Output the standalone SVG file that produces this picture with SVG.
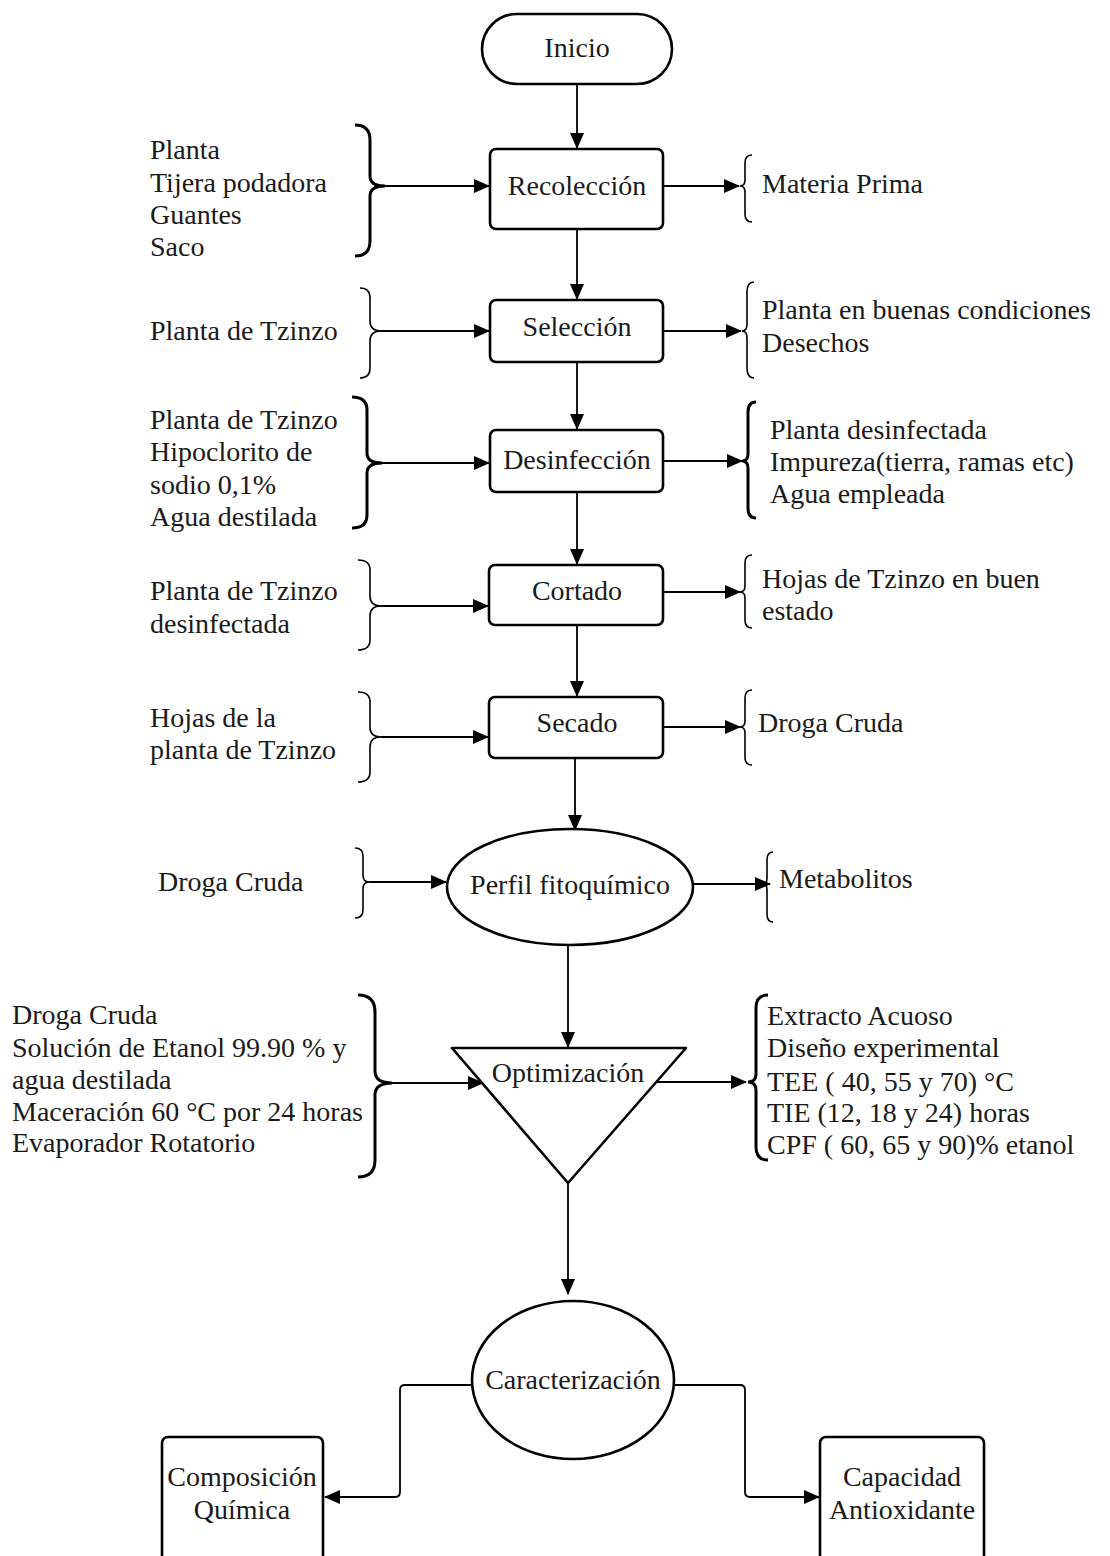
<svg xmlns="http://www.w3.org/2000/svg" width="1110" height="1556" viewBox="0 0 1110 1556">
<style>
text{font-family:"Liberation Serif","Times New Roman",serif;font-size:28px;fill:#1a1a1a}
.c{text-anchor:middle}
.box{fill:#fff;stroke:#000;stroke-width:2.6}
.ln{fill:none;stroke:#000;stroke-width:1.8}
.br{fill:none;stroke:#000;stroke-width:1.6}
.brk{fill:none;stroke:#000;stroke-width:3}
</style>
<defs>
<marker id="ah" markerUnits="userSpaceOnUse" markerWidth="16" markerHeight="14" refX="15" refY="7" orient="auto">
<path d="M0,0 L16,7 L0,14 Z" fill="#000"/>
</marker>
</defs>
<rect width="1110" height="1556" fill="#fff"/>

<g id="connectors">
<line class="ln" x1="577" y1="84" x2="577" y2="148" marker-end="url(#ah)"/>
<line class="ln" x1="577" y1="229" x2="577" y2="299" marker-end="url(#ah)"/>
<line class="ln" x1="577" y1="362" x2="577" y2="429" marker-end="url(#ah)"/>
<line class="ln" x1="577" y1="492" x2="577" y2="564" marker-end="url(#ah)"/>
<line class="ln" x1="577" y1="625" x2="577" y2="696" marker-end="url(#ah)"/>
<line class="ln" x1="575" y1="758" x2="575" y2="830" marker-end="url(#ah)"/>
<line class="ln" x1="568" y1="945" x2="568" y2="1047" marker-end="url(#ah)"/>
<line class="ln" x1="568" y1="1183" x2="568" y2="1294" marker-end="url(#ah)"/>
<path class="ln" d="M472,1385 H405 Q400,1385 400,1390 V1492 Q400,1497 395,1497 H325" marker-end="url(#ah)"/>
<path class="ln" d="M674,1385 H740 Q745,1385 745,1390 V1492 Q745,1497 750,1497 H819" marker-end="url(#ah)"/>
<line class="ln" x1="385" y1="186" x2="489" y2="186" marker-end="url(#ah)"/>
<line class="ln" x1="381" y1="331" x2="489" y2="331" marker-end="url(#ah)"/>
<line class="ln" x1="382" y1="463" x2="489" y2="463" marker-end="url(#ah)"/>
<line class="ln" x1="381" y1="606" x2="488" y2="606" marker-end="url(#ah)"/>
<line class="ln" x1="381" y1="737" x2="488" y2="737" marker-end="url(#ah)"/>
<line class="ln" x1="369" y1="882" x2="446" y2="882" marker-end="url(#ah)"/>
<line class="ln" x1="392" y1="1083" x2="483" y2="1083" marker-end="url(#ah)"/>
<line class="ln" x1="663" y1="186" x2="739" y2="186" marker-end="url(#ah)"/>
<line class="ln" x1="663" y1="331" x2="741" y2="331" marker-end="url(#ah)"/>
<line class="ln" x1="663" y1="461" x2="742" y2="461" marker-end="url(#ah)"/>
<line class="ln" x1="663" y1="592" x2="740" y2="592" marker-end="url(#ah)"/>
<line class="ln" x1="663" y1="727" x2="740" y2="727" marker-end="url(#ah)"/>
<line class="ln" x1="693" y1="884" x2="770" y2="884" marker-end="url(#ah)"/>
<line class="ln" x1="656" y1="1082" x2="746" y2="1082" marker-end="url(#ah)"/>
</g>

<g id="braces">
<path class="brk" d="M355,125 Q370,125 370,140 L370,176 Q370,186 385,186 Q370,186 370,196 L370,241 Q370,256 355,256"/>
<path class="br" d="M360,288 Q370,288 370,298 L370,321 Q370,331 381,331 Q370,331 370,341 L370,368 Q370,378 360,378"/>
<path class="brk" d="M352,397 Q367,397 367,410 L367,453 Q367,463 382,463 Q367,463 367,473 L367,515 Q367,528 352,528"/>
<path class="br" d="M358,560 Q370,560 370,570 L370,596 Q370,606 381,606 Q370,606 370,616 L370,640 Q370,650 358,650"/>
<path class="br" d="M358,692 Q370,692 370,702 L370,727 Q370,737 381,737 Q370,737 370,747 L370,772 Q370,782 358,782"/>
<path class="br" d="M355,848 Q363,848 363,856 L363,875 Q363,882 369,882 Q363,882 363,889 L363,910 Q363,918 355,918"/>
<path class="brk" d="M358,995 Q375,995 375,1012 L375,1071 Q375,1083 392,1083 Q375,1083 375,1095 L375,1160 Q375,1177 358,1177"/>
<path class="br" d="M752,155 Q745,155 745,163 L745,180 Q745,186 740,186 Q745,186 745,192 L745,214 Q745,222 752,222"/>
<path class="br" d="M754,282 Q747,282 747,292 L747,324 Q747,331 742,331 Q747,331 747,338 L747,368 Q747,378 754,378"/>
<path class="brk" d="M756,402 Q748,402 748,412 L748,454 Q748,461 742,461 Q748,461 748,468 L748,508 Q748,518 756,518"/>
<path class="br" d="M752,555 Q745,555 745,563 L745,586 Q745,592 740,592 Q745,592 745,598 L745,620 Q745,628 752,628"/>
<path class="br" d="M752,690 Q745,690 745,698 L745,721 Q745,727 740,727 Q745,727 745,733 L745,757 Q745,765 752,765"/>
<path class="br" d="M773,852 Q767,852 767,860 L767,878 Q767,884 763,884 Q767,884 767,890 L767,914 Q767,922 773,922"/>
<path class="brk" d="M768,995 Q756,995 756,1008 L756,1074 Q756,1082 748,1082 Q756,1082 756,1090 L756,1147 Q756,1160 768,1160"/>
</g>

<g id="inicio"><rect class="box" x="482" y="14" width="190" height="70" rx="35"/><text class="c" x="577" y="57">Inicio</text></g>

<g id="recoleccion"><rect class="box" x="490" y="149" width="173" height="80" rx="6"/><text class="c" x="577" y="195">Recolección</text></g>
<g id="recoleccion-in"><text x="150" y="159">Planta</text><text x="150" y="192">Tijera podadora</text><text x="150" y="224">Guantes</text><text x="150" y="256">Saco</text></g>
<g id="recoleccion-out"><text x="762" y="193">Materia Prima</text></g>

<g id="seleccion"><rect class="box" x="490" y="300" width="173" height="62" rx="6"/><text class="c" x="577" y="336">Selección</text></g>
<g id="seleccion-in"><text x="150" y="340">Planta de Tzinzo</text></g>
<g id="seleccion-out"><text x="762" y="319">Planta en buenas condiciones</text><text x="762" y="352">Desechos</text></g>

<g id="desinfeccion"><rect class="box" x="490" y="430" width="173" height="62" rx="6"/><text class="c" x="577" y="469">Desinfección</text></g>
<g id="desinfeccion-in"><text x="150" y="429">Planta de Tzinzo</text><text x="150" y="461">Hipoclorito de</text><text x="150" y="494">sodio 0,1%</text><text x="150" y="526">Agua destilada</text></g>
<g id="desinfeccion-out"><text x="770" y="439">Planta desinfectada</text><text x="770" y="471">Impureza(tierra, ramas etc)</text><text x="770" y="503">Agua empleada</text></g>

<g id="cortado"><rect class="box" x="489" y="565" width="174" height="60" rx="6"/><text class="c" x="577" y="600">Cortado</text></g>
<g id="cortado-in"><text x="150" y="600">Planta de Tzinzo</text><text x="150" y="633">desinfectada</text></g>
<g id="cortado-out"><text x="762" y="588">Hojas de Tzinzo en buen</text><text x="762" y="620">estado</text></g>

<g id="secado"><rect class="box" x="489" y="697" width="174" height="61" rx="6"/><text class="c" x="577" y="732">Secado</text></g>
<g id="secado-in"><text x="150" y="727">Hojas de la</text><text x="150" y="759">planta de Tzinzo</text></g>
<g id="secado-out"><text x="758" y="732">Droga Cruda</text></g>

<g id="perfil"><ellipse class="box" cx="570" cy="887" rx="123" ry="58"/><text class="c" x="570" y="894">Perfil fitoquímico</text></g>
<g id="perfil-in"><text x="158" y="891">Droga Cruda</text></g>
<g id="perfil-out"><text x="779" y="888">Metabolitos</text></g>

<g id="optimizacion"><polygon class="box" points="452,1048 686,1048 568,1183" stroke-linejoin="round"/><text class="c" x="568" y="1082">Optimización</text></g>
<g id="optimizacion-in"><text x="12" y="1024">Droga Cruda</text><text x="12" y="1057">Solución de Etanol 99.90 % y</text><text x="12" y="1089">agua destilada</text><text x="12" y="1121">Maceración 60 °C por 24 horas</text><text x="12" y="1152">Evaporador Rotatorio</text></g>
<g id="optimizacion-out"><text x="767" y="1025">Extracto Acuoso</text><text x="767" y="1057">Diseño experimental</text><text x="767" y="1091">TEE ( 40, 55 y 70) °C</text><text x="767" y="1122">TIE (12, 18 y 24) horas</text><text x="767" y="1154">CPF ( 60, 65 y 90)% etanol</text></g>

<g id="caracterizacion"><ellipse class="box" cx="573" cy="1380" rx="101" ry="79"/><text class="c" x="573" y="1389">Caracterización</text></g>
<g id="composicion"><rect class="box" x="162" y="1437" width="161" height="140" rx="6"/><text class="c" x="242" y="1486">Composición</text><text class="c" x="242" y="1519">Química</text></g>
<g id="capacidad"><rect class="box" x="820" y="1437" width="164" height="140" rx="6"/><text class="c" x="902" y="1486">Capacidad</text><text class="c" x="902" y="1519">Antioxidante</text></g>
</svg>
